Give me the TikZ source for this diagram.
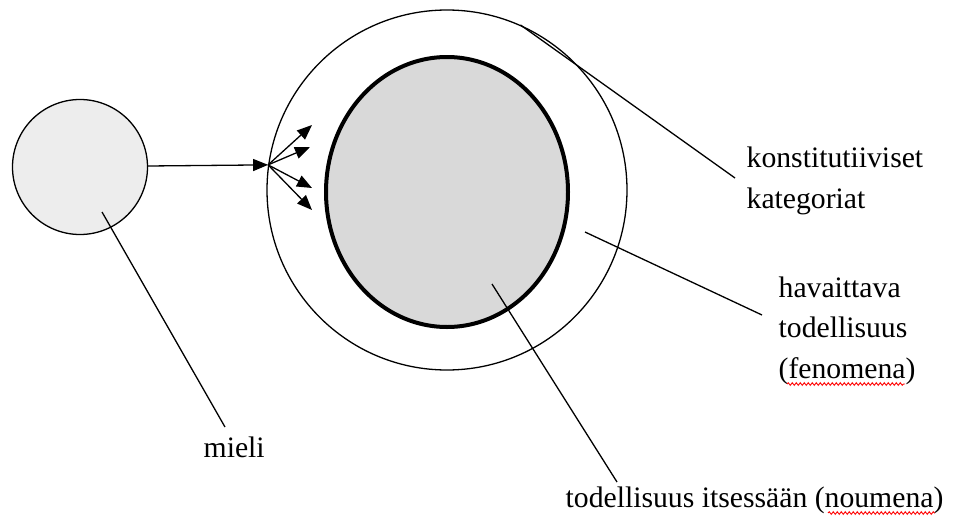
\documentclass[tikz,border=0pt]{standalone}
\usepackage{fontspec}
\setmainfont{Liberation Serif}
\usetikzlibrary{arrows.meta,shapes.geometric,decorations.pathmorphing}
\definecolor{mindgray}{HTML}{EDEDED}
\definecolor{thinggray}{HTML}{D9D9D9}
\tikzset{
  label text/.style={anchor=base west,inner sep=0pt,align=left,
    font=\fontsize{29.7}{40.5}\selectfont},
  pointer/.style={line width=1.3pt},
  spell/.style={draw=red,line width=0.9pt,
    decorate,decoration={snake,amplitude=1.3pt,segment length=4pt}}
}
\begin{document}
\begin{tikzpicture}[x=1pt,y=-1pt,line width=1.3pt,>={Triangle[length=15pt,width=12pt]}]
        \useasboundingbox (0,0) rectangle (954,525);
        % the three bodies
        \node[circle,draw,fill=mindgray,minimum size=135pt,inner sep=0pt] (mind) at (80,167) {};
        \node[circle,draw,minimum size=360pt,inner sep=0pt] (world) at (447,190) {};
        \node[ellipse,draw,line width=4pt,fill=thinggray,minimum width=242pt,minimum height=270pt,inner sep=0pt] (thing) at (447,192) {};
        % the mind reaching out
        \coordinate (gate) at (world.172.4);
        \draw[->] (mind.east |- 0,166) -- (gate);
        \foreach \tip in {(312,125),(310,147),(312,188),(312,210)}
            \draw[->] (gate) -- \tip;
        % labels (base = last line)
        \node[label text] (catlabel) at (746,208) {konstitutiiviset\\kategoriat};
        \node[label text] (phenlabel) at (778,378) {havaittava\\todellisuus\\(fenomena)};
        \node[label text] (mindlabel) at (203,457) {mieli};
        \node[label text] (noulabel) at (565,507) {todellisuus itsessään (noumena)};
        % label pointers
        \draw[pointer] (world.66) -- (735,178);
        \draw[pointer] (585,232) -- (762,315);
        \draw[pointer] (492,284) -- (617,482);
        \draw[pointer] (102,212) -- (225,427);
        % spelling marks
        \draw[spell] (787,384) -- (905,384);
        \draw[spell] (828,513) -- (935,513);
    \end{tikzpicture}
\end{document}
